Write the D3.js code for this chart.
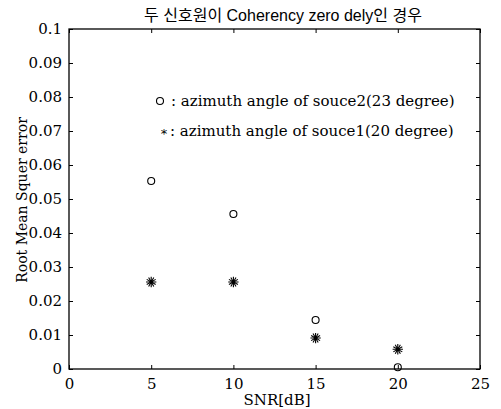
<!DOCTYPE html>
<html><head><meta charset="utf-8">
<script src="https://d3js.org/d3.v7.min.js"></script>
<style>body{margin:0;background:#fff}svg{display:block}</style>
</head><body>
<script>
const snr = [5, 10, 15, 20];
const souce2 = [0.0553, 0.0456, 0.0144, 0.0005];
const souce1 = [0.0256, 0.0256, 0.0091, 0.0058];
const xTicks = [0, 5, 10, 15, 20, 25];
const yTicks = [0, 0.01, 0.02, 0.03, 0.04, 0.05, 0.06, 0.07, 0.08, 0.09, 0.1];
const yTickLabels = ["0","0.01","0.02","0.03","0.04","0.05","0.06","0.07","0.08","0.09","0.1"];
const legendLabels = [": azimuth angle of souce2(23 degree)", ": azimuth angle of souce1(20 degree)"];
const titleText = "두 신호원이 Coherency zero dely인 경우";

const W = 501, H = 409;
const m = {l: 69, r: 21, t: 29, b: 40};
const svg = d3.select("body").append("svg").attr("width", W).attr("height", H);
const font = "'DejaVu Serif', 'Liberation Serif', serif";
const x = d3.scaleLinear().domain([0, 25]).range([m.l, W - m.r]);
const y = d3.scaleLinear().domain([0, 0.1]).range([H - m.b, m.t]);

const g = svg.append("g").attr("font-family", font).attr("fill", "#000");
g.append("rect").attr("x", x(0)).attr("y", y(0.1)).attr("width", x(25) - x(0)).attr("height", y(0) - y(0.1))
  .attr("fill", "none").attr("stroke", "#000").attr("stroke-width", 1.3);

const tl = 4;
const fmt = (d, i) => yTickLabels[i];
const bx = g.append("g").attr("transform", `translate(0,${y(0)})`)
  .call(d3.axisBottom(x).tickValues(xTicks).tickSize(-tl).tickPadding(9).tickFormat(d3.format("d")));
const tx = g.append("g").attr("transform", `translate(0,${y(0.1)})`)
  .call(d3.axisTop(x).tickValues(xTicks).tickSize(-tl).tickFormat(""));
const ly = g.append("g").attr("transform", `translate(${x(0)},0)`)
  .call(d3.axisLeft(y).tickValues(yTicks).tickSize(-tl).tickPadding(7).tickFormat(fmt));
const ry = g.append("g").attr("transform", `translate(${x(25)},0)`)
  .call(d3.axisRight(y).tickValues(yTicks).tickSize(-tl).tickFormat(""));
[bx, tx, ly, ry].forEach(a => {
  a.select(".domain").remove();
  a.selectAll("line").attr("stroke", "#000").attr("stroke-width", 1);
  a.selectAll("text").attr("font-family", font).attr("font-size", 15).attr("fill", "#000");
});

const ast = d3.symbol().type(d3.symbolAsterisk).size(75)();
function star(sel, cx, cy) {
  [0, 90].forEach(rot => sel.append("path").attr("d", ast)
    .attr("transform", `translate(${cx},${cy}) rotate(${rot})`)
    .attr("fill", "none").attr("stroke", "#000").attr("stroke-width", 1.1));
  sel.append("circle").attr("cx", cx).attr("cy", cy).attr("r", 2).attr("fill", "#000");
}

g.selectAll("circle.s2").data(snr).join("circle").attr("class", "s2")
  .attr("cx", d => x(d)).attr("cy", (d, i) => y(souce2[i])).attr("r", 3.5)
  .attr("fill", "none").attr("stroke", "#000").attr("stroke-width", 1.1);
const sg = g.append("g");
snr.forEach((d, i) => star(sg, x(d), y(souce1[i])));

// legend
g.append("circle").attr("cx", 160).attr("cy", 101).attr("r", 3.5).attr("fill", "none").attr("stroke", "#000").attr("stroke-width", 1.1);
g.append("text").attr("x", 164).attr("y", 138).attr("text-anchor", "middle").attr("font-size", 13)
  .attr("font-family", "'DejaVu Sans', sans-serif").text("*");
g.append("text").attr("x", 171).attr("y", 106).attr("font-size", 15).text(legendLabels[0]);
g.append("text").attr("x", 170).attr("y", 136).attr("font-size", 15).text(legendLabels[1]);

g.append("text").attr("x", 283).attr("y", 21).attr("text-anchor", "middle").attr("font-size", 16)
  .attr("font-family", "'Liberation Sans', 'Noto Sans CJK KR', sans-serif").text(titleText);
g.append("text").attr("x", 277).attr("y", 405).attr("text-anchor", "middle").attr("font-size", 15).text("SNR[dB]");
g.append("text").attr("transform", "translate(27,200) rotate(-90)").attr("text-anchor", "middle").attr("font-size", 14).text("Root Mean Squer error");
</script>
</body></html>
